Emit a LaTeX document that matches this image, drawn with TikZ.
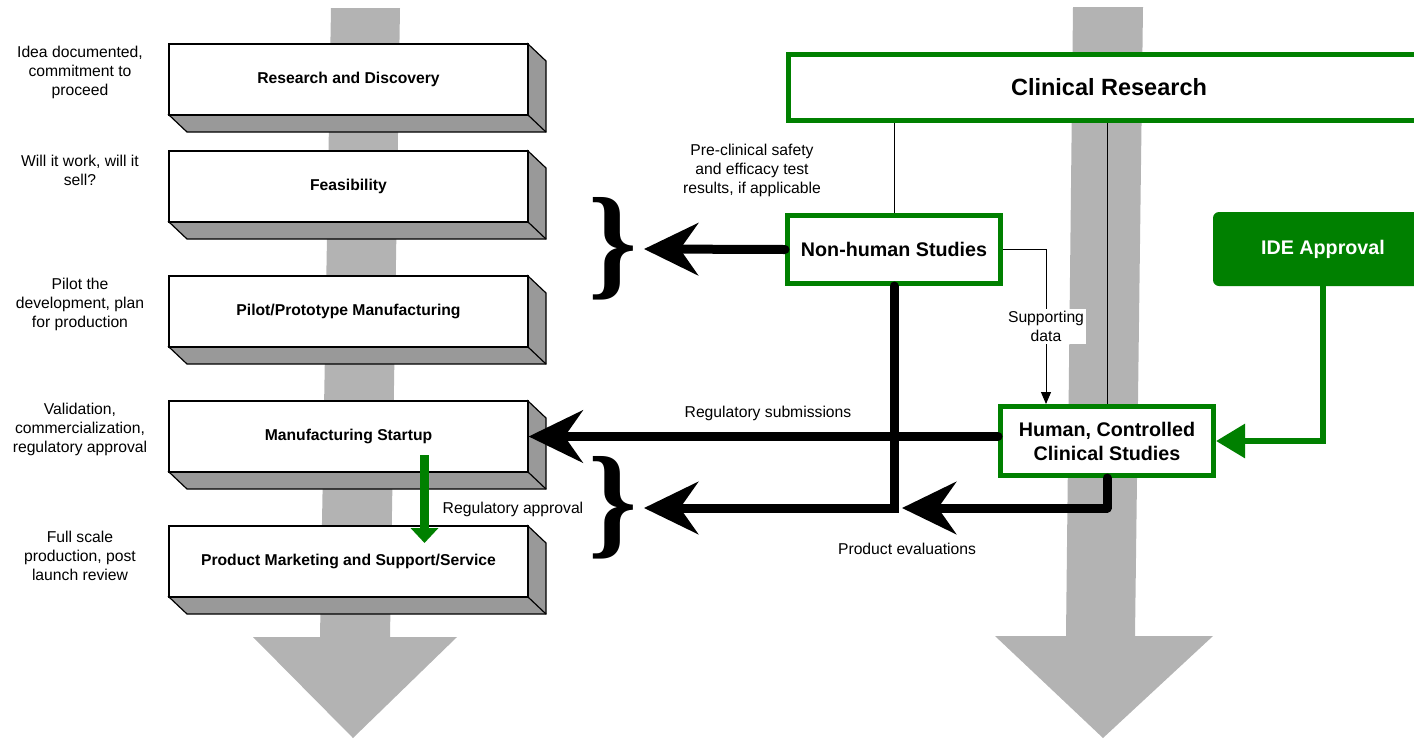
\documentclass[tikz,border=0pt]{standalone}
\usepackage{fontspec}
\setmainfont{Liberation Sans}
\newfontfamily\bracefont{Liberation Serif}
\usetikzlibrary{arrows.meta, calc}

\definecolor{fdagreen}{HTML}{008000}
\definecolor{flowgray}{HTML}{B3B3B3}
\definecolor{sidegray}{HTML}{999999}

\tikzset{
  note/.style={align=center, inner sep=1pt, font=\fontsize{7.85}{9.5}\selectfont},
  stagebox/.style={draw, line width=0.6pt, fill=white, minimum width=179.5pt,
    minimum height=35.5pt, inner sep=0pt, font=\fontsize{7.85}{9.5}\selectfont\bfseries},
  studybox/.style={draw=fdagreen, line width=2.5pt, fill=white, align=center,
    inner sep=0pt, font=\fontsize{9.85}{12}\selectfont\bfseries},
  bigline/.style={line width=4.5pt, line cap=round,
    -{Stealth[length=27pt, width=26pt, inset=9pt]}},
  thinline/.style={line width=0.5pt},
  greenline/.style={draw=fdagreen, line width=3pt},
  bracemark/.style={inner sep=0pt, anchor=east, font=\fontsize{62}{62}\bracefont\bfseries},
}

\begin{document}
\begin{tikzpicture}[x=0.5pt, y=-0.5pt]
  \clip (0,0) rectangle (1414,740);
  % background flow arrows
  \fill[flowgray] (331,8) -- (400,8) -- (390,637) -- (457,637) -- (353,738)
    -- (253,637) -- (320,637) -- cycle;
  \fill[flowgray] (1073,7) -- (1143,7) -- (1135,636) -- (1213,636) -- (1103,738)
    -- (995,636) -- (1066,636) -- cycle;
  % development stages
  \foreach \y/\name/\txt in {44/research/Research and Discovery,
      151/feasibility/Feasibility, 276/pilot/{Pilot/Prototype Manufacturing},
      401/startup/Manufacturing Startup,
      526/marketing/{Product Marketing and Support/Service}}{
    \filldraw[fill=sidegray, line width=0.6pt] (169,\y+71) -- ++(18,17) -- ++(359,0)
      -- ++(0,-71) -- (528,\y) -- (528,\y+71) -- cycle;
    \draw[line width=0.6pt] (528,\y+71) -- ++(18,17);
    \node[stagebox] (\name) at (348.5,\y+35.5) {\txt};
  }
  % stage questions
  \node[note] (ideanote) at (80,72) {Idea documented,\\commitment to\\proceed};
  \node[note] (worknote) at (80,170) {Will it work, will it\\sell?};
  \node[note] (pilotnote) at (80,304) {Pilot the\\development, plan\\for production};
  \node[note] (validnote) at (80,429) {Validation,\\commercialization,\\regulatory approval};
  \node[note] (fullnote) at (80,556) {Full scale\\production, post\\launch review};
  % clinical side
  \node[studybox, minimum width=320.5pt, minimum height=33pt,
    font=\fontsize{11.75}{14}\selectfont\bfseries] (clinical) at (1109,87.5) {Clinical Research};
  \node[studybox, minimum width=106.5pt, minimum height=34pt] (nonhuman) at (894,249.5) {Non-human Studies};
  \node[studybox, minimum width=106.5pt, minimum height=34.5pt] (human) at (1107,441)
    {Human, Controlled\\Clinical Studies};
  \node[fill=fdagreen, rounded corners=3pt, minimum width=110pt, minimum height=37pt,
    text=white, font=\fontsize{9.85}{12}\selectfont\bfseries] (ide) at (1323,249) {IDE Approval};
  % braces
  \node[bracemark] (brace1) at (638,249) {\}};
  \node[bracemark] (brace2) at (638,508) {\}};
  % thin links
  \draw[thinline] (clinical.south -| nonhuman) -- (nonhuman.north);
  \draw[thinline] (clinical.south -| human) -- (human.north);
  \draw[thinline, -{Triangle[width=5pt, length=6pt]}] (nonhuman.east)
    -| node[pos=0.75, fill=white, note] (supnote) {Supporting\\data}
    ([xshift=-30.5pt]human.north);
  % thick links
  \draw[bigline] (nonhuman.west) -- ([xshift=3pt]brace1.east);
  \draw[bigline] (nonhuman.south) |- ([xshift=3pt]brace2.east);
  \draw[bigline, line join=round] (human.south) |- ([xshift=4pt]nonhuman.south |- brace2.east);
  \draw[bigline] (human.west |- startup.east) -- (startup.east);
  % green links
  \draw[greenline, -{Triangle[width=16.5pt, length=14.5pt]}] (ide.south) |- (human.east);
  \draw[greenline, line width=4.5pt, -{Triangle[width=13.5pt, length=7.5pt]}]
    ([xshift=38pt, yshift=-9.25pt]startup.center) -- ([xshift=38pt, yshift=9.25pt]marketing.center);
  % link labels
  \node[note] (precl) at (752,170) {Pre-clinical safety\\and efficacy test\\results, if applicable};
  \node[note] (subnote) at (768,413) {Regulatory submissions};
  \node[note] (apprnote) at (513,509) {Regulatory approval};
  \node[note] (evalnote) at (907,549) {Product evaluations};
\end{tikzpicture}
\end{document}
